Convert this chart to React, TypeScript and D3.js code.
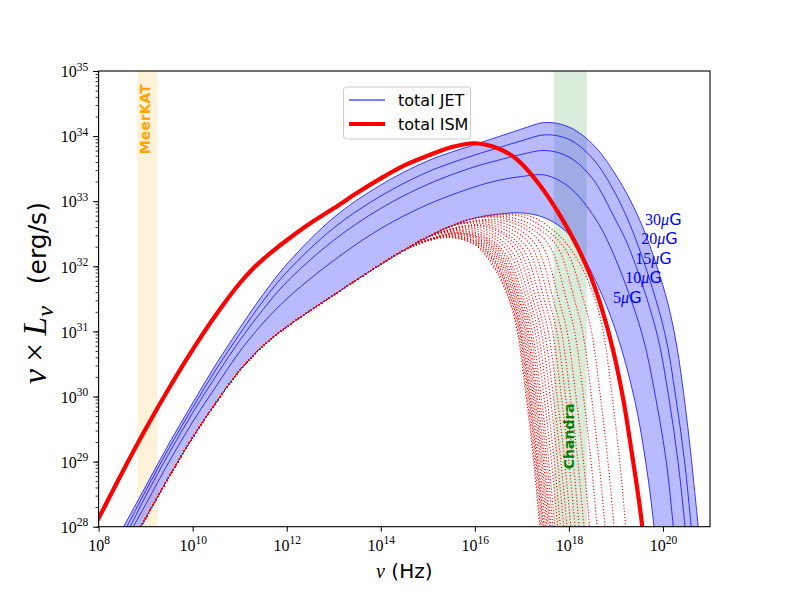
import React, { useRef, useEffect } from 'react';
import * as d3 from 'd3';

type Pt = [number, number]; // [log10 nu (Hz), log10 nuLnu (erg/s)]

const xTickExps = [8, 10, 12, 14, 16, 18, 20];
const yTickExps = [28, 29, 30, 31, 32, 33, 34, 35];

const meerkatBand: [number, number] = [8.82, 9.25];
const chandraBand: [number, number] = [17.68, 18.38];

const ismTotal: Pt[] = [
  [7.9, 28.0], [8.0, 28.13], [8.5, 28.83], [9.0, 29.5], [9.5, 30.13], [10.0, 30.72],
  [10.5, 31.26], [11.0, 31.74], [11.25, 31.94], [11.5, 32.11], [11.75, 32.26], [12.0, 32.4],
  [12.5, 32.66], [13.0, 32.89], [13.5, 33.13], [14.0, 33.35], [14.5, 33.55], [15.0, 33.7],
  [15.5, 33.83], [16.0, 33.89], [16.5, 33.81], [16.9, 33.64], [17.4, 33.23], [17.82, 32.77],
  [18.18, 32.3], [18.46, 31.85], [18.7, 31.35], [18.94, 30.71], [19.16, 29.94], [19.33, 29.17],
  [19.48, 28.45], [19.56, 28.0], [19.6, 27.7],
];

const jet5: Pt[] = [
  [8.8, 27.87], [8.9, 28.0], [9.0, 28.13], [9.5, 28.77], [10.0, 29.37], [10.5, 29.91],
  [11.0, 30.4], [11.5, 30.78], [12.0, 31.07], [12.5, 31.32], [13.0, 31.56], [13.5, 31.8],
  [14.0, 32.03], [14.5, 32.25], [15.0, 32.45], [15.5, 32.62], [16.0, 32.74], [16.5, 32.8],
  [17.0, 32.82], [17.5, 32.74], [18.0, 32.49], [18.5, 31.88], [19.0, 31.0], [19.4, 29.94],
  [19.65, 28.91], [19.81, 28.0], [19.85, 27.7],
];

const jet10: Pt[] = [
  [8.62, 27.84], [8.74, 28.0], [9.0, 28.34], [9.5, 29.0], [10.0, 29.61], [10.5, 30.16],
  [11.0, 30.69], [11.5, 31.13], [12.0, 31.5], [13.0, 32.09], [14.0, 32.58], [15.0, 32.95],
  [16.0, 33.22], [16.5, 33.32], [17.0, 33.38], [17.5, 33.4], [18.0, 33.22], [18.5, 32.8],
  [18.88, 32.3], [19.54, 31.0], [19.84, 30.0], [20.07, 29.0], [20.22, 28.0], [20.26, 27.7],
];

const jet15: Pt[] = [
  [8.55, 27.84], [8.67, 28.0], [9.0, 28.47], [9.5, 29.13], [10.0, 29.75], [10.5, 30.32],
  [11.0, 30.86], [11.5, 31.34], [12.0, 31.76], [13.0, 32.4], [14.0, 32.89], [15.0, 33.26],
  [16.0, 33.53], [16.5, 33.63], [17.0, 33.72], [17.5, 33.78], [18.0, 33.68], [18.5, 33.35],
  [19.0, 32.7], [19.27, 32.3], [19.86, 31.0], [20.12, 30.0], [20.32, 29.0], [20.47, 28.0],
  [20.51, 27.7],
];

const jet20: Pt[] = [
  [8.48, 27.84], [8.6, 28.0], [9.0, 28.55], [9.5, 29.21], [10.0, 29.83], [10.5, 30.42],
  [11.0, 30.96], [11.5, 31.47], [12.0, 31.91], [13.0, 32.59], [14.0, 33.08], [15.0, 33.45],
  [16.0, 33.71], [16.5, 33.82], [17.0, 33.93], [17.5, 34.02], [18.0, 33.95], [18.5, 33.66],
  [19.0, 33.1], [19.48, 32.3], [20.03, 31.0], [20.27, 30.0], [20.46, 29.0], [20.6, 28.0],
  [20.64, 27.7],
];

const jet30: Pt[] = [
  [8.4, 27.83], [8.53, 28.0], [9.0, 28.62], [9.5, 29.28], [10.0, 29.9], [10.5, 30.5],
  [11.0, 31.05], [11.5, 31.57], [12.0, 32.03], [13.0, 32.75], [14.0, 33.25], [15.0, 33.62],
  [16.0, 33.87], [16.5, 33.99], [17.0, 34.11], [17.5, 34.21], [18.0, 34.14], [18.5, 33.88],
  [19.0, 33.4], [19.5, 32.72], [20.0, 31.7], [20.25, 30.95], [20.5, 29.7], [20.75, 28.0],
  [20.79, 27.7],
];

const jetFields = ['5', '10', '15', '20', '30'];
const jetLabelPos: Pt[] = [[18.94, 31.43], [19.2, 31.74], [19.41, 32.03], [19.54, 32.34], [19.62, 32.63]];

// red dotted components: where each one reaches 1e28, and its values 2.0, 1.4, 1.0 decades before that
const dottedEnds = [
  17.38, 17.4, 17.43, 17.45, 17.47, 17.5, 17.53, 17.56, 17.59, 17.62, 17.66, 17.7, 17.76,
  17.82, 17.89, 17.96, 18.04, 18.13, 18.22, 18.32, 18.44, 18.6, 18.77, 18.96, 19.21,
];
const dottedUpperOffsets = [2.0, 1.4, 1.0];
const dottedUpper: number[][] = [
  [32.44, 32.34, 32.01], [32.45, 32.34, 32.02], [32.46, 32.35, 32.04], [32.47, 32.36, 32.04],
  [32.47, 32.36, 32.05], [32.49, 32.37, 32.07], [32.5, 32.38, 32.08], [32.51, 32.39, 32.09],
  [32.51, 32.4, 32.1], [32.52, 32.41, 32.11], [32.54, 32.42, 32.13], [32.55, 32.43, 32.14],
  [32.57, 32.45, 32.17], [32.59, 32.47, 32.19], [32.61, 32.49, 32.22], [32.63, 32.51, 32.24],
  [32.64, 32.51, 32.25], [32.66, 32.53, 32.27], [32.68, 32.55, 32.29], [32.7, 32.57, 32.3],
  [32.72, 32.59, 32.31], [32.74, 32.58, 32.3], [32.75, 32.57, 32.28], [32.77, 32.54, 32.22],
  [32.76, 32.46, 32.07],
];
const dottedTail: Pt[] = [[0.65, 31.48], [0.48, 31.0], [0.28, 29.94], [0.13, 29.0], [0, 28.0], [-0.05, 27.6]];

const SERIF = "'Liberation Serif', 'DejaVu Serif', serif";
const SANS = "'DejaVu Sans', sans-serif";

const W = 789;
const H = 592;

const SedChart: React.FC = () => {
  const svgRef = useRef<SVGSVGElement | null>(null);

  useEffect(() => {
    document.body.style.margin = '0';
    const svg = d3.select(svgRef.current).attr('width', W).attr('height', H);

    const left = 98.6, right = 710, top = 71, bottom = 526.7;

    const x = d3.scaleLog().domain([1e8, 1e21]).range([left, right]);
    const y = d3.scaleLog().domain([1e28, 1e35]).range([bottom, top]);
    const px = (p: Pt) => x(10 ** p[0]);
    const py = (p: Pt) => y(10 ** p[1]);

    const line = d3.line<Pt>().x(px).y(py).curve(d3.curveCatmullRom.alpha(0.5));

    svg.append('defs').append('clipPath').attr('id', 'plot-clip')
      .append('rect').attr('x', left).attr('y', top)
      .attr('width', right - left).attr('height', bottom - top);

    const plot = svg.append('g').attr('clip-path', 'url(#plot-clip)');

    // instrument bands
    plot.append('rect')
      .attr('x', x(10 ** meerkatBand[0])).attr('y', top)
      .attr('width', x(10 ** meerkatBand[1]) - x(10 ** meerkatBand[0]))
      .attr('height', bottom - top)
      .attr('fill', '#ffa500').attr('fill-opacity', 0.15);
    plot.append('rect')
      .attr('x', x(10 ** chandraBand[0])).attr('y', top)
      .attr('width', x(10 ** chandraBand[1]) - x(10 ** chandraBand[0]))
      .attr('height', bottom - top)
      .attr('fill', '#008000').attr('fill-opacity', 0.15);

    // jet band between 5 and 30 muG
    const upper = line(jet30)!;
    const lower = line(jet5.slice().reverse())!;
    plot.append('path')
      .attr('d', upper + 'L' + lower.slice(1) + 'Z')
      .attr('fill', '#0000ff').attr('fill-opacity', 0.27).attr('stroke', 'none');

    [jet5, jet10, jet15, jet20, jet30].forEach(c => {
      plot.append('path').attr('d', line(c)!)
        .attr('fill', 'none').attr('stroke', '#0000ff')
        .attr('stroke-opacity', 0.75).attr('stroke-width', 1);
    });

    // dotted components
    dottedEnds.forEach((end, i) => {
      const head = jet5.filter(p => p[0] <= end - 2.6);
      const mid: Pt[] = dottedUpperOffsets.map((d, k) => [end - d, dottedUpper[i][k]]);
      const tail: Pt[] = dottedTail.map(([d, v]) => [end - d, v]);
      plot.append('path').attr('d', line([...head, ...mid, ...tail])!)
        .attr('fill', 'none').attr('stroke', '#ff0000')
        .attr('stroke-width', 1.1).attr('stroke-dasharray', '1.1 2');
    });

    plot.append('path').attr('d', line(ismTotal)!)
      .attr('fill', 'none').attr('stroke', '#ff0000').attr('stroke-width', 4.2);

    // field labels
    jetFields.forEach((f, i) => {
      const t = svg.append('text')
        .attr('x', px(jetLabelPos[i])).attr('y', py(jetLabelPos[i]))
        .attr('fill', '#0000ff').attr('font-size', 16);
      t.append('tspan').attr('font-family', SERIF).text(f);
      t.append('tspan').attr('font-family', SERIF).attr('font-style', 'italic').text('μ');
      t.append('tspan').attr('font-family', SANS).text('G');
    });

    const bandText = (name: string, cx: number, cy: number, color: string) => {
      svg.append('text')
        .attr('transform', `translate(${x(10 ** cx)},${y(10 ** cy)}) rotate(-90)`)
        .attr('text-anchor', 'middle').attr('dominant-baseline', 'central')
        .attr('font-family', SANS).attr('font-weight', 'bold').attr('font-size', 14)
        .attr('fill', color).text(name);
    };
    bandText('MeerKAT', 8.99, 34.26, '#ffa500');
    bandText('Chandra', 18.01, 29.39, '#008000');

    // axes
    const gx = svg.append('g').attr('transform', `translate(0,${bottom})`)
      .call(d3.axisBottom(x).tickValues(xTickExps.map(e => 10 ** e)).tickSize(5).tickSizeOuter(0).tickFormat(() => ''));
    gx.select('.domain').remove();
    gx.selectAll('.tick line').attr('stroke', '#000').attr('stroke-width', 1);
    gx.selectAll<SVGGElement, number>('.tick').each(function (d) {
      const t = d3.select(this).append('text').attr('y', 24.3).attr('text-anchor', 'middle')
        .attr('fill', '#000').attr('font-family', SERIF).attr('font-size', 16);
      t.append('tspan').text('10');
      t.append('tspan').attr('dy', -6.5).attr('font-size', 11.5).text(String(Math.round(Math.log10(d))));
    });

    const gyMinor = svg.append('g').attr('transform', `translate(${left},0)`)
      .call(d3.axisLeft(y).tickValues(y.ticks()).tickSize(3).tickSizeOuter(0).tickFormat(() => ''));
    gyMinor.select('.domain').remove();
    gyMinor.selectAll('.tick line').attr('stroke', '#000').attr('stroke-width', 0.8);

    const gy = svg.append('g').attr('transform', `translate(${left},0)`)
      .call(d3.axisLeft(y).tickValues(yTickExps.map(e => 10 ** e)).tickSize(5.5).tickSizeOuter(0).tickFormat(() => ''));
    gy.select('.domain').remove();
    gy.selectAll('.tick line').attr('stroke', '#000').attr('stroke-width', 1);
    gy.selectAll<SVGGElement, number>('.tick').each(function (d) {
      const t = d3.select(this).append('text').attr('x', -10.3).attr('y', 5.7).attr('text-anchor', 'end')
        .attr('fill', '#000').attr('font-family', SERIF).attr('font-size', 16);
      t.append('tspan').text('10');
      t.append('tspan').attr('dy', -6.5).attr('font-size', 11.5).text(String(Math.round(Math.log10(d))));
    });

    svg.append('rect').attr('x', left).attr('y', top)
      .attr('width', right - left).attr('height', bottom - top)
      .attr('fill', 'none').attr('stroke', '#000').attr('stroke-width', 1.1);

    // axis labels
    const xl = svg.append('text').attr('x', (left + right) / 2).attr('y', 578)
      .attr('text-anchor', 'middle').attr('font-size', 20).attr('fill', '#000');
    xl.append('tspan').attr('font-family', SERIF).attr('font-style', 'italic').text('ν');
    xl.append('tspan').attr('font-family', SANS).text(' (Hz)');

    const yl = svg.append('text').attr('transform', 'translate(46,384) rotate(-90)')
      .attr('text-anchor', 'start').attr('fill', '#000');
    yl.append('tspan').attr('font-family', SERIF).attr('font-size', 34).attr('font-style', 'italic').text('ν');
    yl.append('tspan').attr('font-family', SERIF).attr('font-size', 34).attr('dx', 7).text('×');
    yl.append('tspan').attr('font-family', SERIF).attr('font-size', 34).attr('font-style', 'italic').attr('dx', 7).text('L');
    yl.append('tspan').attr('font-family', SERIF).attr('font-style', 'italic')
      .attr('font-size', 24).attr('dy', 7).text('ν');
    yl.append('tspan').attr('font-family', SANS).attr('font-size', 25).attr('dy', -7).attr('dx', 22).text('(erg/s)');

    // legend
    const lg = svg.append('g');
    lg.append('rect').attr('x', 343.5).attr('y', 87).attr('width', 127).attr('height', 52)
      .attr('rx', 3).attr('fill', '#fff').attr('fill-opacity', 0.8)
      .attr('stroke', '#cccccc').attr('stroke-width', 1);
    const entries = [
      { name: 'total JET', color: '#0000ff', width: 1, yy: 100 },
      { name: 'total ISM', color: '#ff0000', width: 4.2, yy: 124 },
    ];
    entries.forEach(e => {
      lg.append('line').attr('x1', 349).attr('x2', 385).attr('y1', e.yy).attr('y2', e.yy)
        .attr('stroke', e.color).attr('stroke-width', e.width);
      lg.append('text').attr('x', 398).attr('y', e.yy + 5.8)
        .attr('font-family', SANS).attr('font-size', 16).attr('fill', '#000').text(e.name);
    });

    return () => {
      svg.selectAll('*').remove();
    };
  }, []);

  return <svg ref={svgRef} style={{ display: 'block' }}></svg>;
};

export default function App() {
  return <SedChart />;
}
